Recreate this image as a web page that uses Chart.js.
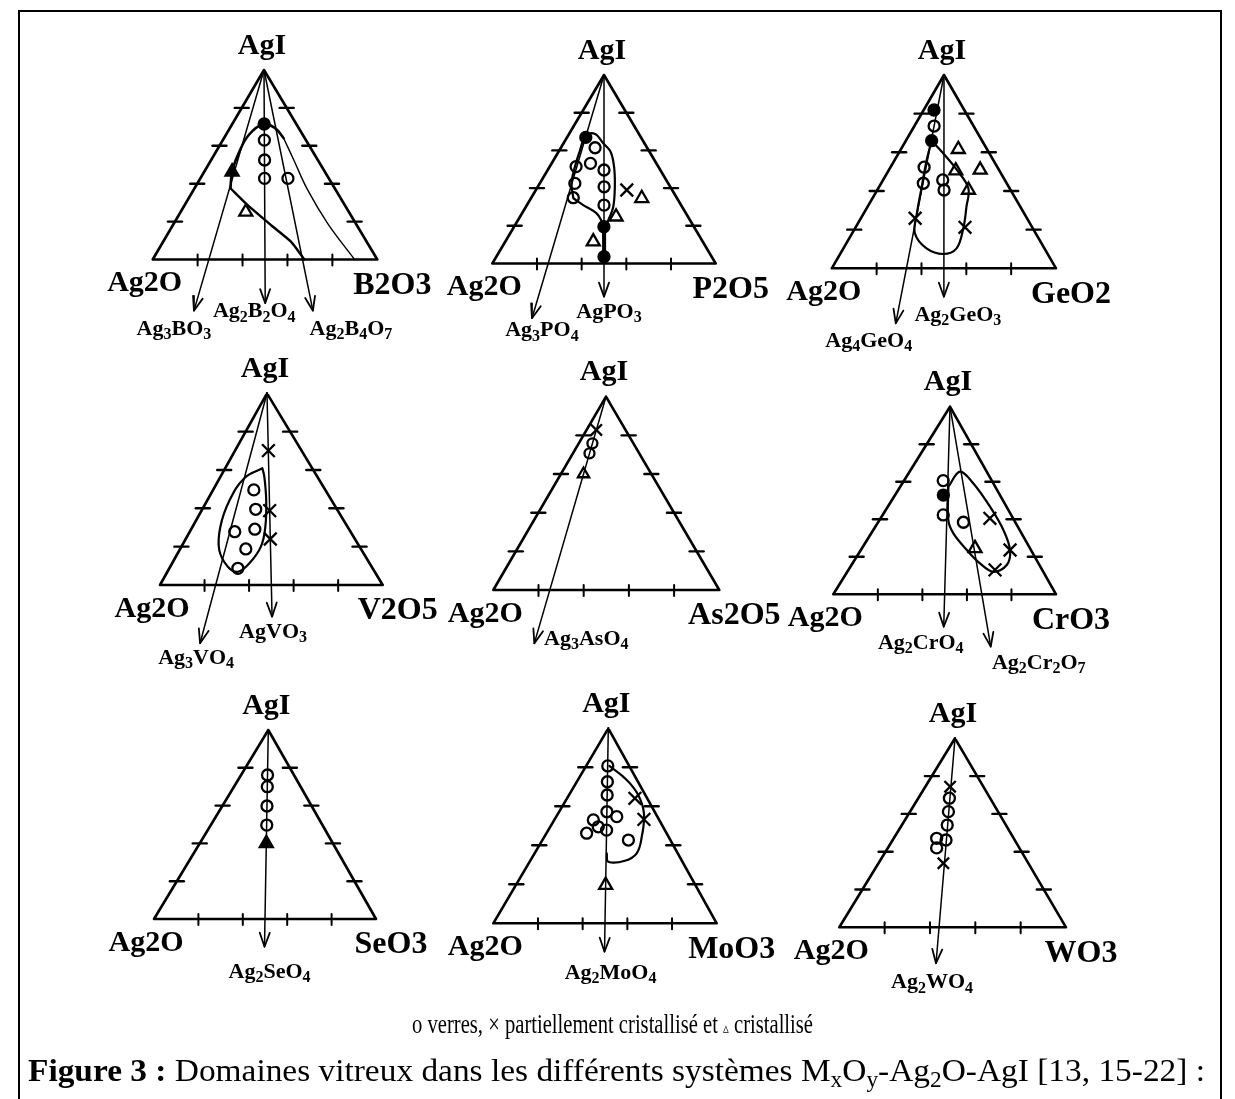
<!DOCTYPE html>
<html><head><meta charset="utf-8">
<script src="https://cdn.jsdelivr.net/npm/chart.js@4/dist/chart.umd.min.js"></script>
<style>
html,body{margin:0;padding:0;background:#fff;}
#wrap{position:relative;width:1235px;height:1099px;overflow:hidden;background:#fff;}
#c{position:absolute;left:0;top:0;}
.frame{position:absolute;left:18px;top:10px;width:1200px;height:1200px;border:2px solid #000;}
.cap{position:absolute;font-family:"Liberation Serif","Times New Roman",serif;white-space:nowrap;transform-origin:left top;color:#000;line-height:1;}
.cap sub{font-size:70%;vertical-align:-0.28em;line-height:0;}
</style></head>
<body><div id="wrap">
<div class="frame"></div>
<canvas id="c" width="1235" height="1099"></canvas>
<div id="cap1" class="cap" style="left:412px;top:1011px;font-size:27px;">o verres, × partiellement cristallisé et <span style="font-family:'DejaVu Sans';font-size:15px;">▵</span> cristallisé</div>
<div id="cap2" class="cap" style="left:28px;top:1054px;font-size:32px;"><b>Figure 3 :</b> Domaines vitreux dans les différents systèmes M<sub>x</sub>O<sub>y</sub>-Ag<sub>2</sub>O-AgI [13, 15-22] :</div>
</div>
<script>
// ---------------- DATA (ternary compositions: [AgI fraction, MxOy fraction]) ----------------
const topName = 'AgI';
const leftName = 'Ag2O';
const oxideNames = ['B2O3','P2O5','GeO2','V2O5','As2O5','CrO3','SeO3','MoO3','WO3'];
const tickFractions = [0.2, 0.4, 0.6, 0.8];

// rays: [MxOy fraction on the AgI-free base, AgI fraction at arrow tip, compound]
const raysB = [[0.25,-0.27,'Ag3BO3'],[0.5,-0.23,'Ag2B2O4'],[0.667,-0.27,'Ag2B4O7']];
const raysP = [[0.25,-0.29,'Ag3PO4'],[0.5,-0.176,'AgPO3']];
const raysG = [[0.333,-0.285,'Ag4GeO4'],[0.5,-0.147,'Ag2GeO3']];
const raysV = [[0.25,-0.304,'Ag3VO4'],[0.5,-0.165,'AgVO3']];
const raysA = [[0.25,-0.276,'Ag3AsO4']];
const raysC = [[0.5,-0.173,'Ag2CrO4'],[0.667,-0.279,'Ag2Cr2O7']];
const raysS = [[0.5,-0.147,'Ag2SeO4']];
const raysM = [[0.5,-0.146,'Ag2MoO4']];
const raysW = [[0.44,-0.19,'Ag2WO4']];

// glass-domain boundaries
const curveB_left = [[0.376,0.160],[0.463,0.124],[0.560,0.105],[0.657,0.102],[0.715,0.140],[0.692,0.203],[0.640,0.266]];
const curveB_right = [[0.640,0.266],[0.525,0.368],[0.367,0.508],[0.191,0.684],[0,0.899]];
const curveB_low = [[0.376,0.160],[0.288,0.279],[0.182,0.436],[0.094,0.569],[0,0.675]];
const curveP = [[0.346,0.19],[0.425,0.142],[0.514,0.113],[0.602,0.092],[0.682,0.078],[0.687,0.117],[0.638,0.178],[0.593,0.233],[0.514,0.288],[0.407,0.345],[0.301,0.391],[0.231,0.404],[0.204,0.402],[0.266,0.334],[0.310,0.252],[0.346,0.19]];
const barP = [[0.204,0.398],[0.045,0.478]];
const curveG = [[0.660,0.115],[0.595,0.199],[0.509,0.303],[0.414,0.402],[0.319,0.441],[0.207,0.483],[0.103,0.505],[0.074,0.460],[0.103,0.371],[0.181,0.280],[0.285,0.237],[0.422,0.190],[0.560,0.143],[0.660,0.115]];
const curveV = [[0.609,0.167],[0.557,0.111],[0.443,0.100],[0.304,0.125],[0.183,0.178],[0.095,0.259],[0.069,0.317],[0.113,0.347],[0.200,0.357],[0.304,0.327],[0.443,0.264],[0.565,0.197],[0.609,0.167]];
const curveC = [[0.574,0.216],[0.654,0.226],[0.592,0.318],[0.467,0.459],[0.343,0.584],[0.236,0.670],[0.156,0.697],[0.120,0.656],[0.165,0.572],[0.236,0.476],[0.325,0.369],[0.396,0.309],[0.574,0.216]];
const curveM = [[0.807,0.104],[0.735,0.219],[0.658,0.310],[0.564,0.384],[0.444,0.436],[0.359,0.457],[0.321,0.424],[0.316,0.352],[0.359,0.323]];

// samples: o verres (open / dark), x partiellement cristallisé, triangle cristallisé
const glassB = [[0.63,0.185],[0.525,0.238],[0.428,0.286],[0.428,0.39]];
const glassB_dark = [[0.715,0.142]];
const crystB = [[0.251,0.29]];
const crystB_dark = [[0.463,0.124]];

const glassP = [[0.614,0.153],[0.531,0.174],[0.349,0.188],[0.514,0.118],[0.425,0.157],[0.496,0.252],[0.407,0.297],[0.310,0.345]];
const glassP_dark = [[0.669,0.084],[0.195,0.402],[0.036,0.482]];
const partP = [[0.390,0.407]];
const crystP = [[0.346,0.496],[0.248,0.430],[0.116,0.394]];

const glassG = [[0.736,0.088],[0.523,0.150],[0.440,0.188],[0.457,0.266],[0.405,0.298]];
const glassG_dark = [[0.819,0.046],[0.660,0.115]];
const partG = [[0.259,0.242],[0.212,0.488]];
const crystG = [[0.616,0.256],[0.509,0.407],[0.505,0.300],[0.405,0.407]];

const glassV = [[0.496,0.183],[0.395,0.240],[0.278,0.202],[0.291,0.286],[0.188,0.295],[0.087,0.308]];
const partV = [[0.701,0.150],[0.388,0.306],[0.240,0.380]];

const glassA = [[0.759,0.060],[0.707,0.073]];
const partA = [[0.828,0.043]];
const crystA = [[0.600,0.100]];

const glassC = [[0.606,0.176],[0.423,0.272],[0.384,0.383]];
const glassC_dark = [[0.529,0.217]];
const partC = [[0.405,0.491],[0.236,0.670],[0.130,0.658]];
const crystC = [[0.245,0.508]];

const glassS = [[0.762,0.119],[0.700,0.150],[0.598,0.201],[0.497,0.252]];
const crystS_dark = [[0.400,0.300]];

const glassM = [[0.807,0.097],[0.726,0.137],[0.658,0.171],[0.572,0.214],[0.478,0.261],[0.530,0.175],[0.462,0.180],[0.495,0.215],[0.547,0.271],[0.427,0.385]];
const partM = [[0.641,0.304],[0.533,0.400]];
const crystM = [[0.196,0.402]];

const glassW = [[0.683,0.137],[0.612,0.169],[0.541,0.200],[0.462,0.235],[0.471,0.189],[0.420,0.215]];
const partW = [[0.744,0.109],[0.339,0.286]];

// ---------------- LAYOUT (page pixels) ----------------
const verts = [
  [[264,70],[152.7,259.5],[377.3,259.5]],
  [[604,75],[492.3,263.5],[715.7,263.5]],
  [[944,75],[831.8,268.3],[1056,268.3]],
  [[267,393.3],[160,585],[382.7,585]],
  [[606,396.7],[493.3,590],[719.3,590]],
  [[950,406.7],[833.3,594.3],[1056,594.3]],
  [[268.3,730],[154,919],[376,919]],
  [[608.3,728.3],[493.3,923.3],[716.7,923.3]],
  [[955,738.3],[839.3,927.3],[1066,927.3]]
];
const rayLabelOffsets = [
  [[-20,17],[-11,7],[38,17]],
  [[10,11],[5,14]],
  [[-27,16],[14,17]],
  [[-4,13],[1,14]],
  [[52,-6]],
  [[-23,15],[48,15]],
  [[5,24]],
  [[6,20]],
  [[-4,18]]
];

const allRays = [raysB,raysP,raysG,raysV,raysA,raysC,raysS,raysM,raysW];

function tern(p, a, c){
  const [A,L,R] = verts[p]; const b = 1-a-c;
  return {x: a*A[0]+b*L[0]+c*R[0], y: a*A[1]+b*L[1]+c*R[1]};
}

const datasets = [];
function addLine(pts, w, tension){
  datasets.push({type:'scatter', showLine:true, data:pts, borderColor:'#000', borderWidth:w,
    pointRadius:0, pointHoverRadius:0, tension:tension||0, fill:false, borderCapStyle:'round', borderJoinStyle:'round'});
}
function addCurve(p, arr, w, t){ addLine(arr.map(([a,c])=>tern(p,a,c)), w, t===undefined?0.4:t); }
function addMarks(p, arr, style, r, fillColor, bw){
  datasets.push({type:'scatter', showLine:false, data:arr.map(([a,c])=>tern(p,a,c)),
    pointStyle:style, pointRadius:r, pointHoverRadius:r, pointBorderColor:'#000', pointBorderWidth:bw||2.3,
    pointBackgroundColor:fillColor});
}

const rayTips = [];
for (let p=0; p<9; p++){
  // triangle outline
  addLine([tern(p,1,0),tern(p,0,0),tern(p,0,1),tern(p,1,0)], 2.6, 0);
  // tick marks
  tickFractions.forEach(f=>{
    const l = tern(p,1-f,0); addLine([{x:l.x-7,y:l.y},{x:l.x+7,y:l.y}], 2.4, 0);
    const r = tern(p,1-f,f); addLine([{x:r.x-7,y:r.y},{x:r.x+7,y:r.y}], 2.4, 0);
    const b = tern(p,0,f); addLine([{x:b.x,y:b.y-5},{x:b.x,y:b.y+6}], 2, 0);
  });
  // composition rays with arrow heads
  rayTips.push([]);
  allRays[p].forEach(([c0,aTip,name])=>{
    const top = tern(p,1,0), tip = tern(p,aTip,c0*(1-aTip));
    addLine([top,tip], 1.5, 0);
    const dx = tip.x-top.x, dy = tip.y-top.y, len = Math.hypot(dx,dy);
    const ux = dx/len, uy = dy/len, nx = -uy, ny = ux;
    addLine([{x:tip.x-ux*14+nx*5,y:tip.y-uy*14+ny*5},tip,{x:tip.x-ux*14-nx*5,y:tip.y-uy*14-ny*5}], 1.8, 0);
    rayTips[p].push({tip, name});
  });
}

// boundaries
addCurve(0, curveB_left, 2.6); addCurve(0, curveB_right, 1.4); addCurve(0, curveB_low, 2.4, 0.2);
addCurve(1, curveP, 2.2, 0.35); addCurve(1, barP, 4, 0);
addCurve(2, curveG, 2.2, 0.35);
addCurve(3, curveV, 2.2, 0.4);
addCurve(5, curveC, 2.2, 0.35);
addCurve(7, curveM, 2.2, 0.4);

// samples
const W = 'rgba(0,0,0,0)';
addMarks(0, glassB, 'circle', 5.5, W); addMarks(0, glassB_dark, 'circle', 5.5, '#000');
addMarks(0, crystB, 'triangle', 7.5, W); addMarks(0, crystB_dark, 'triangle', 7.5, '#000');
addMarks(1, glassP, 'circle', 5.5, W); addMarks(1, glassP_dark, 'circle', 5.5, '#000');
addMarks(1, partP, 'crossRot', 9, W); addMarks(1, crystP, 'triangle', 7.5, W);
addMarks(2, glassG, 'circle', 5.5, W); addMarks(2, glassG_dark, 'circle', 5.5, '#000');
addMarks(2, partG, 'crossRot', 9, W); addMarks(2, crystG, 'triangle', 7.5, W);
addMarks(3, glassV, 'circle', 5.5, W); addMarks(3, partV, 'crossRot', 9, W);
addMarks(4, glassA, 'circle', 5, W); addMarks(4, partA, 'crossRot', 8, W); addMarks(4, crystA, 'triangle', 6.5, W);
addMarks(5, glassC, 'circle', 5.5, W); addMarks(5, glassC_dark, 'circle', 5.5, '#000');
addMarks(5, partC, 'crossRot', 9, W); addMarks(5, crystC, 'triangle', 7.5, W);
addMarks(6, glassS, 'circle', 5.5, W); addMarks(6, crystS_dark, 'triangle', 7.5, '#000');
addMarks(7, glassM, 'circle', 5.5, W); addMarks(7, partM, 'crossRot', 9, W); addMarks(7, crystM, 'triangle', 7.5, W);
addMarks(8, glassW, 'circle', 5.5, W); addMarks(8, partW, 'crossRot', 8, W);

// ---------------- labels ----------------
function drawChem(ctx, s, cx, cy, size, sub){
  const fMain = `bold ${size}px "Liberation Serif", serif`, fSub = `bold ${sub}px "Liberation Serif", serif`;
  const parts = [...s].map(ch=>[ch, /[0-9]/.test(ch)]);
  let w = 0; parts.forEach(([ch,d])=>{ ctx.font = d?fSub:fMain; w += ctx.measureText(ch).width; });
  let x = cx - w/2; const base = cy + size*0.33;
  ctx.textAlign = 'left'; ctx.textBaseline = 'alphabetic';
  parts.forEach(([ch,d])=>{ ctx.font = d?fSub:fMain; ctx.fillText(ch, x, d ? base+size*0.2 : base); x += ctx.measureText(ch).width; });
}
const labelPlugin = {
  id:'ternLabels',
  afterDatasetsDraw(chart){
    const ctx = chart.ctx, xs = chart.scales.x, ys = chart.scales.y;
    ctx.save(); ctx.fillStyle = '#000';
    for (let p=0; p<9; p++){
      const A = tern(p,1,0), L = tern(p,0,0), R = tern(p,0,1);
      ctx.textAlign='center'; ctx.textBaseline='middle';
      ctx.font = 'bold 30px "Liberation Serif", serif';
      ctx.fillText(topName, xs.getPixelForValue(A.x-2), ys.getPixelForValue(A.y-24));
      ctx.fillText(leftName, xs.getPixelForValue(L.x-8), ys.getPixelForValue(L.y+24));
      ctx.font = 'bold 32px "Liberation Serif", serif';
      ctx.fillText(oxideNames[p], xs.getPixelForValue(R.x+15), ys.getPixelForValue(R.y+26));
      rayTips[p].forEach(({tip,name},i)=>{
        const o = rayLabelOffsets[p][i];
        drawChem(ctx, name, xs.getPixelForValue(tip.x+o[0]), ys.getPixelForValue(tip.y+o[1]), 22, 16);
      });
    }
    ctx.restore();
  }
};

new Chart(document.getElementById('c'), {
  type:'scatter',
  data:{datasets},
  options:{
    responsive:false, animation:false, devicePixelRatio:1,
    layout:{padding:0, autoPadding:false},
    plugins:{legend:{display:false}, tooltip:{enabled:false}},
    events:[],
    scales:{
      x:{type:'linear', min:0, max:1235, display:false},
      y:{type:'linear', min:0, max:1099, reverse:true, display:false}
    }
  },
  plugins:[labelPlugin]
});

// fit caption widths
function fit(id, w){ const el=document.getElementById(id); const nat=el.getBoundingClientRect().width; el.style.transform=`scaleX(${w/nat})`; }
fit('cap1', 401); fit('cap2', 1177);
</script>
</body></html>
